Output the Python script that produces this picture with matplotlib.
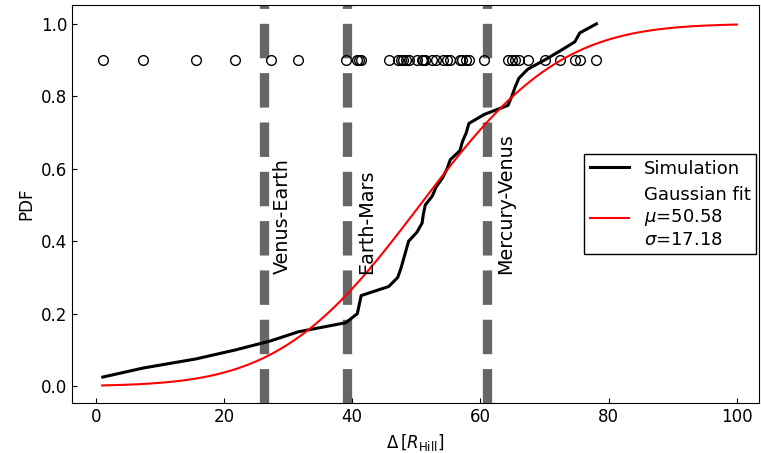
import math
import numpy as np
import matplotlib
matplotlib.use("Agg")
import matplotlib.pyplot as plt

# separations between neighbouring planets
delta = [1.1, 7.4, 15.6, 21.8, 27.3, 31.6, 39.0, 40.8, 41.1, 41.4,
         45.7, 47.1, 47.6, 48.0, 48.4, 48.8, 50.1, 50.9, 51.1, 51.4,
         52.5, 53.1, 54.1, 54.8, 55.3, 56.8, 57.2, 57.8, 58.2, 60.6,
         64.3, 64.9, 65.4, 66.0, 67.4, 70.0, 72.4, 74.7, 75.5, 78.1]
mu, sigma = 50.58, 17.18
solar = [26.2, 39.2, 61.0]
solar_names = ["Venus-Earth", "Earth-Mars", "Mercury-Venus"]

x_sorted = np.sort(delta)
cdf = np.arange(1, len(x_sorted) + 1) / len(x_sorted)
x_fit = np.linspace(1, 100, 300)
y_fit = np.array([0.5 * (1 + math.erf((v - mu) / (sigma * math.sqrt(2)))) for v in x_fit])

fig, ax = plt.subplots(figsize=(7.61, 4.53), dpi=100)
fig.subplots_adjust(left=0.0946, right=0.997, bottom=0.110, top=0.989)

for xs, name in zip(solar, solar_names):
    ax.axvline(xs, color='#666666', linestyle='--', lw=6.7, zorder=1)
    ax.text(xs + 1.5, 0.31, name, rotation=90, fontsize=13.8, ha='left', va='bottom')

ax.plot(x_sorted, np.full(len(x_sorted), 0.9), 'o', mfc='none', mec='k', ms=7, mew=1)
ax.plot(x_sorted, cdf, color='k', lw=2.2, label='Simulation')
ax.plot(x_fit, y_fit, color='r', lw=1.5,
        label='Gaussian fit\n$\\mu$=%.2f\n$\\sigma$=%.2f' % (mu, sigma))

ax.set_xlim(-3.7, 103.4)
ax.set_ylim(-0.047, 1.052)
ax.set_xlabel(r'$\Delta\,[R_{\rm Hill}]$', fontsize=12)
ax.set_ylabel('PDF', fontsize=12)
ax.tick_params(direction='in', labelsize=12)
ax.set_xticks([0, 20, 40, 60, 80, 100])

leg = ax.legend(loc='center right', bbox_to_anchor=(1.0, 0.5), borderaxespad=0.15,
                fontsize=13, fancybox=False, edgecolor='k', framealpha=1,
                labelspacing=0.45, borderpad=0.3, handlelength=2.2)
leg.get_frame().set_linewidth(1.0)

plt.savefig('out.png', dpi=100)
